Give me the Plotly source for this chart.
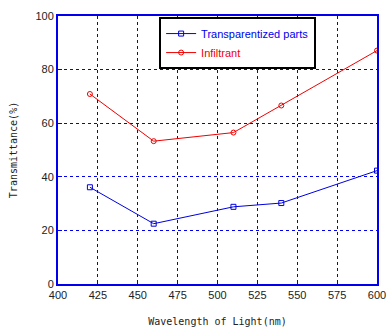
import plotly.graph_objects as go

wavelength = [420, 460, 510, 540, 600]
transparentized = [36.1, 22.5, 28.8, 30.2, 42.3]
infiltrant = [70.9, 53.3, 56.5, 66.6, 87.1]
x_ticks = [400, 425, 450, 475, 500, 525, 550, 575, 600]
y_ticks = [0, 20, 40, 60, 80, 100]

fig = go.Figure()
fig.add_trace(go.Scatter(
    x=wavelength, y=transparentized, mode="lines+markers",
    name="<span style='color:#0000ee'>Transparentized parts</span>",
    line=dict(color="#0000dd", width=1),
    marker=dict(symbol="square-open", size=5, color="#0000dd", line=dict(width=1)),
))
fig.add_trace(go.Scatter(
    x=wavelength, y=infiltrant, mode="lines+markers",
    name="<span style='color:#ee0000'>Infiltrant</span>",
    line=dict(color="#ee0000", width=1),
    marker=dict(symbol="circle-open", size=5, color="#ee0000", line=dict(width=1)),
))

axis_common = dict(
    showline=True, linecolor="#0000ee", linewidth=2, mirror=True,
    showgrid=True, gridcolor="#0000ee", griddash="dot", gridwidth=1,
    ticks="inside", tickcolor="#0000ee", ticklen=4,
    tickfont=dict(family="Liberation Sans, Arial", size=11, color="#222222"),
    zeroline=False, automargin=False,
)

fig.update_layout(
    width=389, height=334,
    margin=dict(l=58, r=12, t=16, b=50),
    paper_bgcolor="white", plot_bgcolor="white",
    showlegend=True,
    legend=dict(
        x=0.317, y=0.996, xanchor="left", yanchor="top",
        bordercolor="black", borderwidth=2, bgcolor="white",
        font=dict(family="Liberation Sans, Arial", size=11),
        itemwidth=30, tracegroupgap=0,
    ),
    xaxis=dict(range=[400, 600], tickvals=x_ticks,
               title=dict(text="Wavelength of Light(nm)", standoff=18,
                          font=dict(family="DejaVu Sans Mono", size=10, color="#222222")),
               **axis_common),
    yaxis=dict(range=[0, 100], tickvals=y_ticks,
               title=dict(text="Transmittance(%)", standoff=16,
                          font=dict(family="DejaVu Sans Mono", size=10, color="#222222")),
               **axis_common),
)

fig.write_html("out.html")
